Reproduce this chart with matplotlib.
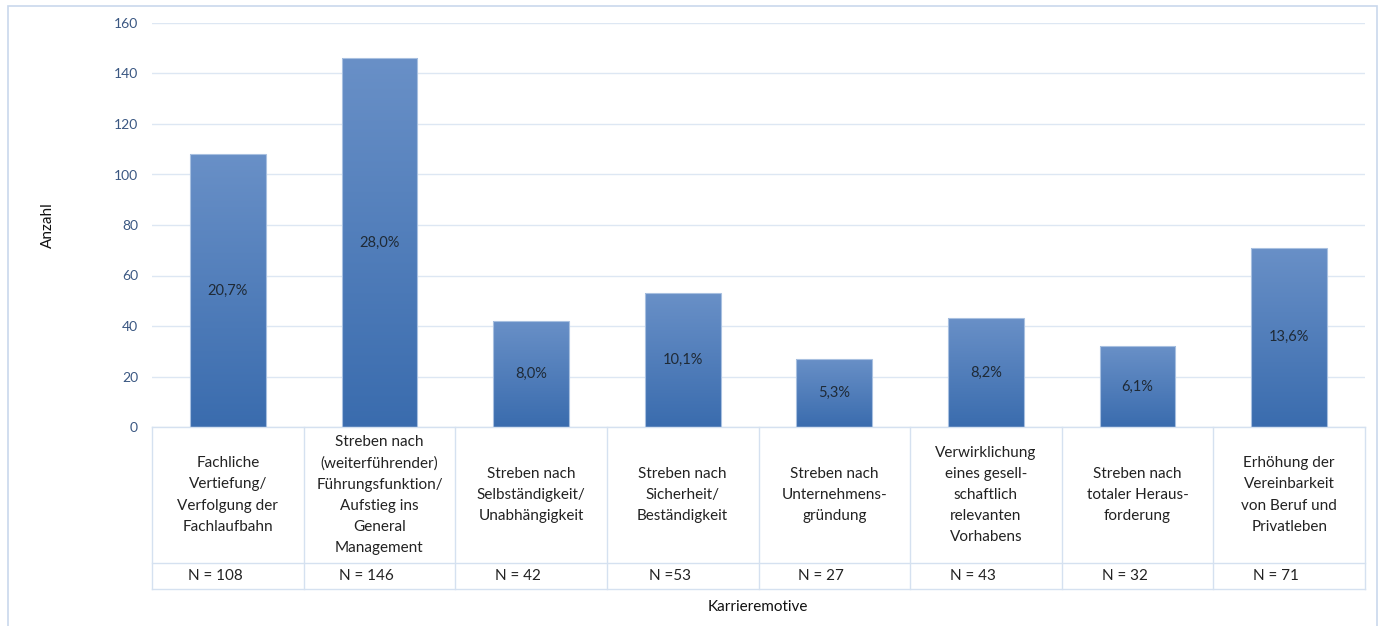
import numpy as np
import matplotlib
matplotlib.use("Agg")
import matplotlib.pyplot as plt
import matplotlib.patches as mpatches
from matplotlib.colors import LinearSegmentedColormap
from matplotlib.transforms import blended_transform_factory

plt.rcParams['font.family'] = ['Lato', 'DejaVu Sans']

categories = [
    "Fachliche\nVertiefung/\nVerfolgung der\nFachlaufbahn",
    "Streben nach\n(weiterführender)\nFührungsfunktion/\nAufstieg ins\nGeneral\nManagement",
    "Streben nach\nSelbständigkeit/\nUnabhängigkeit",
    "Streben nach\nSicherheit/\nBeständigkeit",
    "Streben nach\nUnternehmens-\ngründung",
    "Verwirklichung\neines gesell-\nschaftlich\nrelevanten\nVorhabens",
    "Streben nach\ntotaler Heraus-\nforderung",
    "Erhöhung der\nVereinbarkeit\nvon Beruf und\nPrivatleben",
]
counts = [108, 146, 42, 53, 27, 43, 32, 71]
percent_labels = ["20,7%", "28,0%", "8,0%", "10,1%", "5,3%", "8,2%", "6,1%", "13,6%"]
n_labels = ["N = 108", "N = 146", "N = 42", "N =53", "N = 27", "N = 43", "N = 32", "N = 71"]

fig = plt.figure(figsize=(13.83, 6.26), dpi=100)
ax = fig.add_axes([152 / 1383, 1 - 427 / 626, (1365 - 152) / 1383, (427 - 23) / 626])

grid_col = "#dde7f3"
line_col = "#d5e1f0"
tick_col = "#3a5782"

# gradient bars (light top -> darker bottom)
cmap = LinearSegmentedColormap.from_list("bar", ["#3a6cae", "#6990c7"])
grad = np.linspace(0, 1, 256).reshape(-1, 1)
width = 0.5
for i, v in enumerate(counts):
    x0, x1 = i - width / 2, i + width / 2
    im = ax.imshow(grad, extent=[x0, x1, 0, v], origin="lower", cmap=cmap,
                   aspect="auto", zorder=2)
    rect = mpatches.Rectangle((x0, 0), width, v, facecolor="none",
                              edgecolor="#a8c0e0", linewidth=0.8, zorder=3)
    ax.add_patch(rect)
    im.set_clip_path(rect)
    ax.text(i, v / 2, percent_labels[i], ha="center", va="center",
            fontsize=10.5, color="#1f2a36", zorder=4)

ax.set_xlim(-0.5, len(counts) - 0.5)
ax.set_ylim(0, 160)
ax.set_yticks(np.arange(0, 161, 20))
ax.set_xticks([])
ax.tick_params(axis="y", length=0, pad=10, labelsize=10, labelcolor=tick_col)
ax.grid(axis="y", color=grid_col, linewidth=1, zorder=0)
ax.set_axisbelow(True)
for s in ax.spines.values():
    s.set_visible(False)

fig.text(48 / 1383, 1 - 225 / 626, "Anzahl", rotation=90, ha="center", va="center",
         fontsize=11, color="#111111")

# table below the plot area
tr = blended_transform_factory(ax.transData, ax.transAxes)
row_mid = -136 / 404
row_bot = -162 / 404
for i in range(len(counts) + 1):
    ax.plot([i - 0.5, i - 0.5], [0, row_bot], transform=tr, color=line_col,
            linewidth=1, clip_on=False)
for yy in [0, row_mid, row_bot]:
    ax.plot([-0.5, len(counts) - 0.5], [yy, yy], transform=tr, color=line_col,
            linewidth=1, clip_on=False)
for i, lab in enumerate(categories):
    ax.text(i, row_mid / 2, lab, transform=tr, ha="center", va="center",
            fontsize=11, color="#222222", linespacing=1.65, clip_on=False)
    ax.text(i - 0.085, (row_mid + row_bot) / 2, n_labels[i], transform=tr,
            ha="center", va="center", fontsize=11, color="#222222", clip_on=False)

fig.text(758 / 1383, 1 - 607 / 626, "Karrieremotive", ha="center", va="center",
         fontsize=11, color="#111111")

# outer chart frame
frame = mpatches.Rectangle((8 / 1383, -0.05), (1377 - 8) / 1383, 1.05 - 6 / 626,
                           transform=fig.transFigure, fill=False,
                           edgecolor="#c9d8ec", linewidth=1.2)
fig.patches.append(frame)

fig.savefig("out.png", dpi=100, facecolor="white")
